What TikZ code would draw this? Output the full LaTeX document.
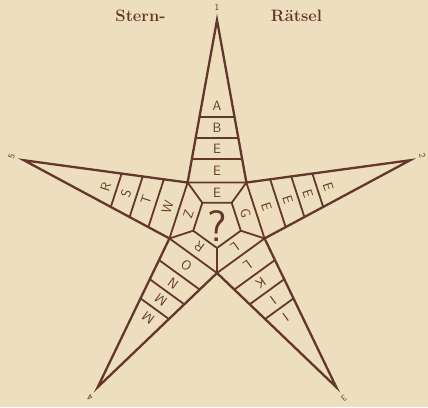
\documentclass[tikz,border=0pt]{standalone}
\usetikzlibrary{calc}
\definecolor{paper}{RGB}{237,223,189}
\definecolor{ink}{RGB}{100,55,44}

\begin{document}
\begin{tikzpicture}[
    x=1pt, y=1pt,
    starline/.style={draw=ink, line width=2.3pt, line join=miter},
    cellline/.style={draw=ink, line width=1.8pt},
    letter/.style={text=ink, font=\sffamily\fontsize{13.5}{13.5}\selectfont, inner sep=0pt},
    tipnum/.style={text=ink, font=\sffamily\fontsize{9}{9}\selectfont, inner sep=0pt},
    heading/.style={text=ink, font=\bfseries\fontsize{16.5}{16.5}\selectfont, inner sep=0pt, anchor=base},
    quest/.style={text=ink, font=\sffamily\fontsize{44}{44}\selectfont, inner sep=0pt}
]

% ==================== PAPER & TITLE ====================
\fill[paper] (0,0) rectangle (428,407);
\useasboundingbox (0,0) rectangle (428,407);
\node[heading] (stern) at (140.5,385) {Stern-};
\node[heading] (raetsel) at (296.5,385) {Rätsel};

\begin{scope}[shift={(217,184)}]

% ==================== STAR POINTS ====================
\coordinate (tip1) at (90:203);
\coordinate (tip2) at (18:203);
\coordinate (tip3) at (-54:203);
\coordinate (tip4) at (-126:203);
\coordinate (tip5) at (162:203);
\coordinate (in12) at (54:50);
\coordinate (in23) at (-18:50);
\coordinate (in34) at (-90:50);
\coordinate (in45) at (-162:50);
\coordinate (in51) at (126:50);
\coordinate (pc12) at (54:25);
\coordinate (pc23) at (-18:25);
\coordinate (pc34) at (-90:25);
\coordinate (pc45) at (-162:25);
\coordinate (pc51) at (126:25);

% ==================== OUTLINE & CENTRE ====================
\draw[starline] (tip1) -- (in12) -- (tip2) -- (in23) -- (tip3) -- (in34) -- (tip4) -- (in45) -- (tip5) -- (in51) -- cycle;
\draw[cellline] (pc12) -- (pc23) -- (pc34) -- (pc45) -- (pc51) -- cycle;
\draw[cellline] (in12) -- (in23) -- (in34) -- (in45) -- (in51) -- cycle;
\draw[cellline] (pc12) -- (in12);
\draw[cellline] (pc23) -- (in23);
\draw[cellline] (pc34) -- (in34);
\draw[cellline] (pc45) -- (in45);
\draw[cellline] (pc51) -- (in51);
\node[quest] (q) at (0,-3) {?};

% ==================== CROSS LINES IN THE ARMS ====================
% arm 1
\draw[cellline] ($(tip1)!0.855!(in51)$) -- ($(tip1)!0.855!(in12)$);
\draw[cellline] ($(tip1)!0.726!(in51)$) -- ($(tip1)!0.726!(in12)$);
\draw[cellline] ($(tip1)!0.597!(in51)$) -- ($(tip1)!0.597!(in12)$);
% arm 2
\draw[cellline] ($(tip2)!0.855!(in12)$) -- ($(tip2)!0.855!(in23)$);
\draw[cellline] ($(tip2)!0.726!(in12)$) -- ($(tip2)!0.726!(in23)$);
\draw[cellline] ($(tip2)!0.597!(in12)$) -- ($(tip2)!0.597!(in23)$);
% arm 3
\draw[cellline] ($(tip3)!0.855!(in23)$) -- ($(tip3)!0.855!(in34)$);
\draw[cellline] ($(tip3)!0.726!(in23)$) -- ($(tip3)!0.726!(in34)$);
\draw[cellline] ($(tip3)!0.597!(in23)$) -- ($(tip3)!0.597!(in34)$);
% arm 4
\draw[cellline] ($(tip4)!0.855!(in34)$) -- ($(tip4)!0.855!(in45)$);
\draw[cellline] ($(tip4)!0.726!(in34)$) -- ($(tip4)!0.726!(in45)$);
\draw[cellline] ($(tip4)!0.597!(in34)$) -- ($(tip4)!0.597!(in45)$);
% arm 5
\draw[cellline] ($(tip5)!0.855!(in45)$) -- ($(tip5)!0.855!(in51)$);
\draw[cellline] ($(tip5)!0.726!(in45)$) -- ($(tip5)!0.726!(in51)$);
\draw[cellline] ($(tip5)!0.597!(in45)$) -- ($(tip5)!0.597!(in51)$);

% ==================== LETTERS ====================
% arm 1
\node[letter] (a1) at (90:117) {A};
\node[letter] (b1) at (90:95.5) {B};
\node[letter] (c1) at (90:74.5) {E};
\node[letter] (d1) at (90:52) {E};
\node[letter] (e1) at (90:30) {E};
% arm 2
\node[letter, rotate=-72] (a2) at (18:117) {E};
\node[letter, rotate=-72] (b2) at (18:95.5) {E};
\node[letter, rotate=-72] (c2) at (18:74.5) {E};
\node[letter, rotate=-72] (d2) at (18:52) {E};
\node[letter, rotate=-72] (e2) at (18:30) {G};
% arm 3
\node[letter, rotate=-144] (a3) at (-54:117) {I};
\node[letter, rotate=-144] (b3) at (-54:95.5) {I};
\node[letter, rotate=-144] (c3) at (-54:74.5) {K};
\node[letter, rotate=-144] (d3) at (-54:52) {L};
\node[letter, rotate=-144] (e3) at (-54:30) {L};
% arm 4
\node[letter, rotate=144] (a4) at (-126:117) {M};
\node[letter, rotate=144] (b4) at (-126:95.5) {M};
\node[letter, rotate=144] (c4) at (-126:74.5) {N};
\node[letter, rotate=144] (d4) at (-126:52) {O};
\node[letter, rotate=144] (e4) at (-126:30) {R};
% arm 5
\node[letter, rotate=72] (a5) at (162:117) {R};
\node[letter, rotate=72] (b5) at (162:95.5) {S};
\node[letter, rotate=72] (c5) at (162:74.5) {T};
\node[letter, rotate=72] (d5) at (162:52) {W};
\node[letter, rotate=72] (e5) at (162:30) {Z};

% ==================== TIP NUMBERS ====================
\node[tipnum] (n1) at (90:216) {1};
\node[tipnum, rotate=-72] (n2) at (18:216) {2};
\node[tipnum, rotate=-144] (n3) at (-54:216) {3};
\node[tipnum, rotate=144] (n4) at (-126:216) {4};
\node[tipnum, rotate=72] (n5) at (162:216) {5};

\end{scope}
\end{tikzpicture}
\end{document}
